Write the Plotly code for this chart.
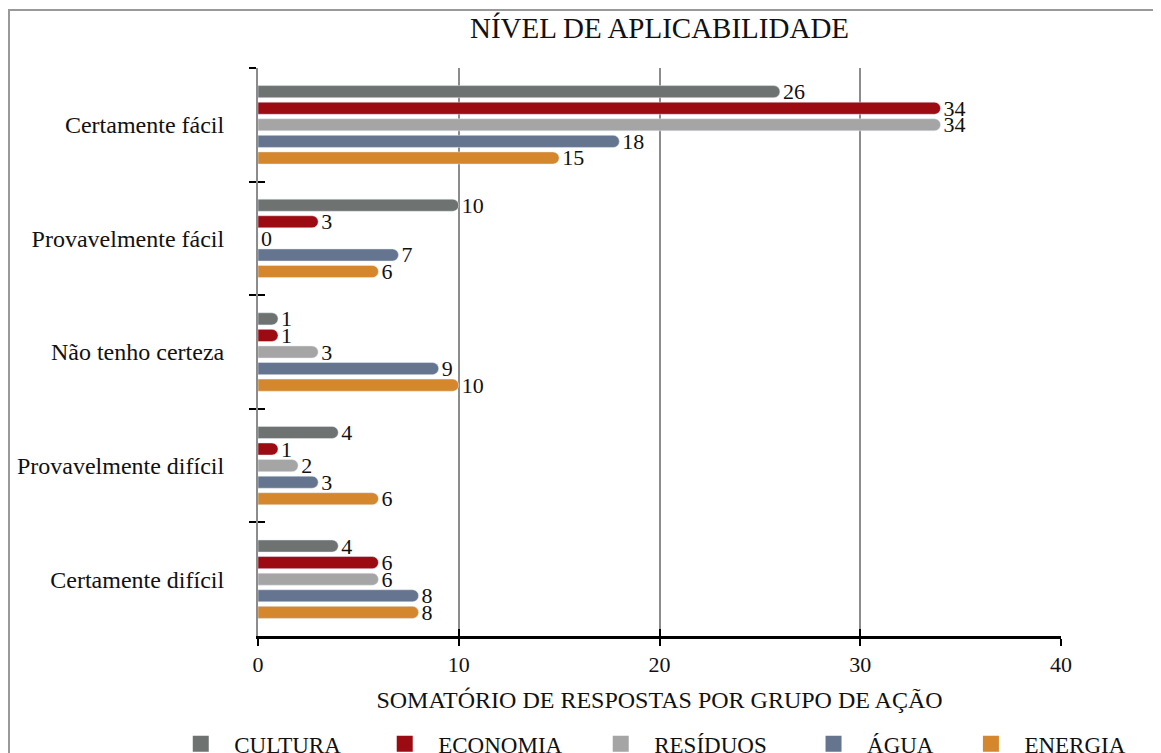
import plotly.graph_objects as go

categories = ["Certamente fácil", "Provavelmente fácil", "Não tenho certeza",
              "Provavelmente difícil", "Certamente difícil"]
series_names = ["CULTURA", "ECONOMIA", "RESÍDUOS", "ÁGUA", "ENERGIA"]
cultura = [26, 10, 1, 4, 4]
economia = [34, 3, 1, 1, 6]
residuos = [34, 0, 3, 2, 6]
agua = [18, 7, 9, 3, 8]
energia = [15, 6, 10, 6, 8]
series_values = [cultura, economia, residuos, agua, energia]
colors = ["#6e7371", "#9c0a12", "#a5a5a5", "#66758f", "#d4872c"]
x_ticks = [0, 10, 20, 30, 40]

FONT = "Liberation Serif"
W, H = 1161, 753
ML, MT, MR, MB = 250, 60, 108, 125
PW, PH = W - ML - MR, H - MT - MB

fig = go.Figure()
for name, vals, col in zip(series_names, series_values, colors):
    fig.add_trace(go.Bar(
        y=categories, x=vals, name=name, orientation="h",
        marker=dict(color=col, cornerradius="50%"),
        text=[str(v) for v in vals], textposition="outside",
        constraintext="none",
        textfont=dict(family=FONT, size=22, color="#111111"),
        cliponaxis=False, showlegend=False,
    ))

legend_x = [-0.113, 0.141, 0.410, 0.675, 0.871]
legend_names = ["legend", "legend2", "legend3", "legend4", "legend5"]
for name, col, lg in zip(series_names, colors, legend_names):
    fig.add_trace(go.Scatter(
        x=[None], y=[None], mode="markers", name=name,
        marker=dict(symbol="square", size=16, color=col),
        legend=lg, showlegend=True, hoverinfo="skip",
    ))

# invisible helper trace for overlay axes
fig.add_trace(go.Scatter(x=[None], y=[None], xaxis="x2", yaxis="y2",
                         showlegend=False, hoverinfo="skip"))

layout_legends = {}
for lg, lx in zip(legend_names, legend_x):
    layout_legends[lg] = dict(
        x=lx, y=-0.19, xanchor="left", yanchor="middle",
        orientation="h", bgcolor="rgba(0,0,0,0)",
        font=dict(family=FONT, size=23, color="#111111"),
        itemsizing="trace", itemwidth=57,
    )

fig.update_layout(
    width=W, height=H,
    margin=dict(l=ML, r=MR, t=MT, b=MB, autoexpand=False),
    paper_bgcolor="white", plot_bgcolor="white",
    font=dict(family=FONT, color="#111111"),
    barmode="group", bargap=0.27, bargroupgap=0.27,
    title=dict(text="NÍVEL DE APLICABILIDADE", x=0.5, xref="paper",
               y=1 - 20 / H, yref="container", yanchor="middle", xanchor="center",
               font=dict(family=FONT, size=29, color="#111111")),
    xaxis=dict(range=[0, 40], tickvals=x_ticks, showgrid=True, gridcolor="#8c8c8c",
               gridwidth=2, zeroline=False, showline=True, linecolor="#000000",
               linewidth=2.5, ticks="outside", ticklen=7, tickwidth=2, tickcolor="#000000",
               tickfont=dict(family=FONT, size=22, color="#111111"),
               ticklabelstandoff=0, automargin=False,
               title=dict(text="SOMATÓRIO DE RESPOSTAS POR GRUPO DE AÇÃO",
                          font=dict(family=FONT, size=24, color="#111111"), standoff=16)),
    xaxis2=dict(range=[0, 40], tickvals=x_ticks, overlaying="x", anchor="y2", side="bottom",
                showgrid=False, zeroline=False, showline=False, ticks="inside",
                ticklen=7, tickwidth=2, tickcolor="#000000", showticklabels=False),
    yaxis=dict(type="category", categoryorder="array", categoryarray=categories,
               range=[4.5, -0.5], showgrid=False, zeroline=False,
               showline=True, linecolor="#8c8c8c", linewidth=2,
               tickson="boundaries", ticks="outside", ticklen=7, tickwidth=2,
               tickcolor="#000000", ticklabelstandoff=27, automargin=False,
               tickfont=dict(family=FONT, size=24, color="#111111")),
    yaxis2=dict(range=[4.5, -0.5], overlaying="y", anchor="x", side="left",
                tickvals=[-0.5, 0.5, 1.5, 2.5, 3.5], showgrid=False, zeroline=False,
                showline=False, ticks="inside", ticklen=7, tickwidth=2,
                tickcolor="#000000", showticklabels=False),
    shapes=[dict(type="rect", xref="paper", yref="paper",
                 x0=(1 - ML) / PW, x1=(W + 20 - ML) / PW,
                 y0=(MT + PH - (H + 30)) / PH, y1=(MT + PH - 2) / PH,
                 line=dict(color="#999999", width=2), fillcolor="rgba(0,0,0,0)",
                 layer="below")],
    **layout_legends,
)

fig.write_html("out.html")
